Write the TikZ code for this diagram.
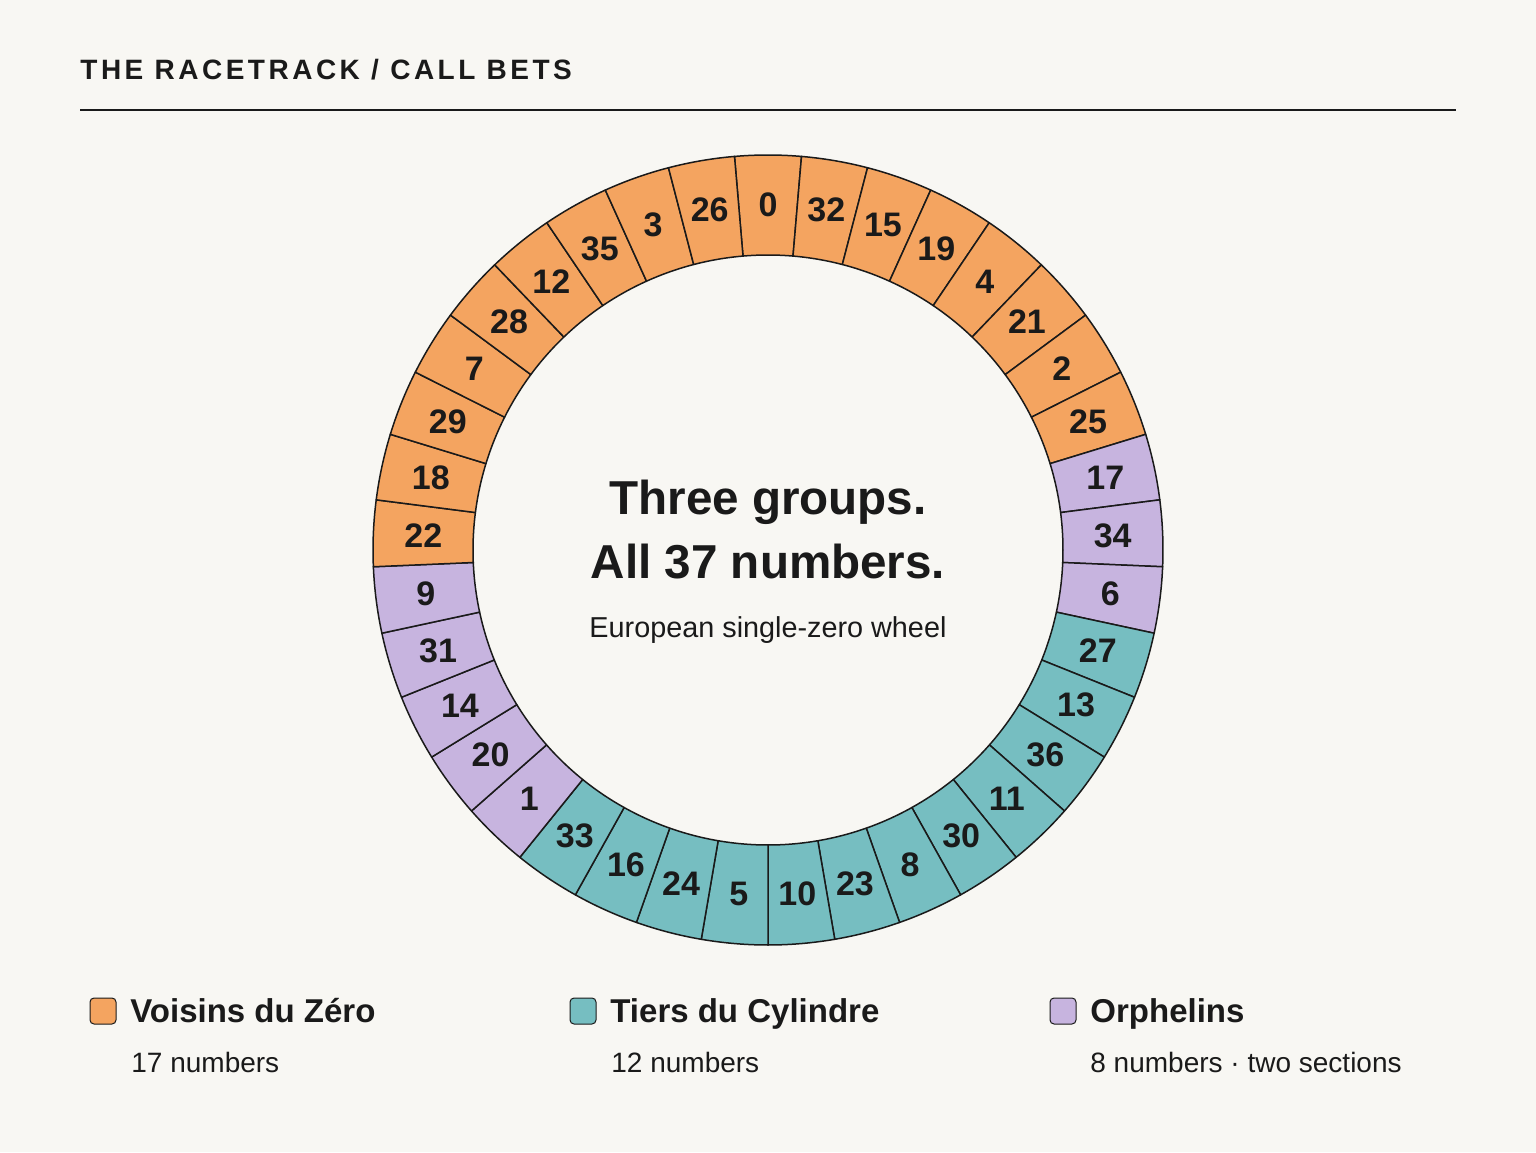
\documentclass[tikz,border=0pt]{standalone}
\usepackage{fontspec}
\setmainfont{Liberation Sans}
\newfontfamily\trackfont[LetterSpace=12.5]{Liberation Sans}
\usetikzlibrary{calc,positioning}
\definecolor{paper}{HTML}{F8F7F3}
\definecolor{ink}{HTML}{1A1A1A}
\definecolor{voisins}{HTML}{F4A460}
\definecolor{tiers}{HTML}{76BEC1}
\definecolor{orphelins}{HTML}{C7B4DF}
\tikzset{%
	pocket/.style   = {draw=ink, line width=0.75pt, line join=round},
	pocketnum/.style= {font=\bfseries\fontsize{17}{17}\selectfont, text=ink, inner sep=0pt},
	headline/.style = {font=\bfseries\fontsize{23.8}{28}\selectfont, text=ink, inner sep=0pt},
	subline/.style  = {font=\fontsize{14.4}{16}\selectfont, text=ink, inner sep=0pt},
	keybox/.style   = {draw=ink, line width=0.5pt, rounded corners=2pt, minimum size=13pt, inner sep=0pt},
	legtitle/.style = {font=\bfseries\fontsize{16.5}{18}\selectfont, text=ink, inner sep=0pt, anchor=base west},
	legnote/.style  = {font=\fontsize{14}{16}\selectfont, text=ink, inner sep=0pt, anchor=base west},
}
\newcommand{\slot}{360/37}

\begin{document}
\begin{tikzpicture}[x=0.5pt, y=0.5pt]
	\fill[paper] (0,0) rectangle (1536,1152);
	\useasboundingbox (0,0) rectangle (1536,1152);
	
	% heading
	\node[anchor=west, inner sep=0pt, text=ink] (title) at (80,1082) {\trackfont\bfseries\fontsize{14}{16}\selectfont THE RACETRACK / CALL BETS};
	\coordinate (ruleL) at (80,1042);
	\coordinate (ruleR) at (1456,1042);
	\draw[ink, line width=1pt] (ruleL) -- (ruleR);
	
	% the wheel, clockwise from zero
	\coordinate (hub) at (768,602);
	\foreach \num/\grp [count=\i from 0] in {0/voisins, 32/voisins, 15/voisins, 19/voisins, 4/voisins, 21/voisins, 2/voisins, 25/voisins,
		17/orphelins, 34/orphelins, 6/orphelins,
		27/tiers, 13/tiers, 36/tiers, 11/tiers, 30/tiers, 8/tiers, 23/tiers, 10/tiers, 5/tiers, 24/tiers, 16/tiers, 33/tiers,
		1/orphelins, 20/orphelins, 14/orphelins, 31/orphelins, 9/orphelins,
		22/voisins, 18/voisins, 29/voisins, 7/voisins, 28/voisins, 12/voisins, 35/voisins, 3/voisins, 26/voisins} {
		\pgfmathsetmacro{\aa}{90-(\i-0.5)*\slot}
		\pgfmathsetmacro{\ab}{90-(\i+0.5)*\slot}
		\pgfmathsetmacro{\am}{90-\i*\slot}
		\draw[pocket, fill=\grp, shift={(hub)}] (\aa:295) -- (\aa:395) arc[start angle=\aa, end angle=\ab, radius=395]
			-- (\ab:295) arc[start angle=\ab, end angle=\aa, radius=295] -- cycle;
		\node[pocketnum] (n\num) at ($(hub)+(\am:345)$) {\num};
	}
	
	% centre text
	\node[headline] (groups) at (768,650) {Three groups.};
	\node[headline] (allnums) at (768,590) {All 37 numbers.};
	\node[subline] (wheel) at (768,522) {European single-zero wheel};
	
	% legend
	\node[keybox, fill=voisins] (vzkey) at (103,141) {};
	\node[legtitle] (vztitle) at (130,129.5) {Voisins du Zéro};
	\node[legnote] (vznote) at (131,80) {17 numbers};
	
	\node[keybox, fill=tiers] (tckey) at (583,141) {};
	\node[legtitle] (tctitle) at (610,129.5) {Tiers du Cylindre};
	\node[legnote] (tcnote) at (611,80) {12 numbers};
	
	\node[keybox, fill=orphelins] (orkey) at (1063,141) {};
	\node[legtitle] (ortitle) at (1090,129.5) {Orphelins};
	\node[legnote] (ornote) at (1090,80) {8 numbers · two sections};
\end{tikzpicture}
\end{document}
